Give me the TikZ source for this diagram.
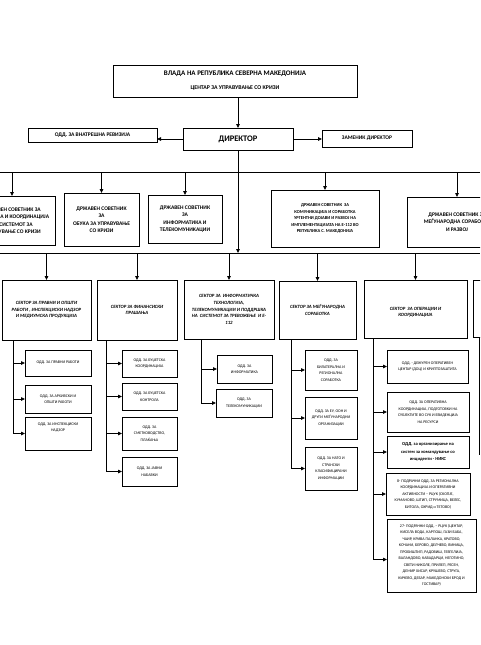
\documentclass[tikz,border=0pt]{standalone}
\usepackage{fontspec}
\setmainfont{Carlito}
\usetikzlibrary{arrows.meta}
\newcommand\mkbox[7]{\node[#2, minimum width={#5-#3}, minimum height={#6-#4}] (#1) at ({(#3+#5)/2},{(#4+#6)/2}) {#7};}
\begin{document}
\begin{tikzpicture}[x=1pt,y=-1pt,
  bx/.style={draw, line width=0.8pt, inner sep=0.5pt, outer sep=0pt, align=center},
  titl/.style={bx, line width=0.9pt},
  dirf/.style={bx, font=\bfseries\fontsize{8.5}{10}\selectfont},
  topf/.style={bx, font=\bfseries\fontsize{5.5}{7}\selectfont},
  advf/.style={bx, font=\bfseries\fontsize{5.5}{7.5}\selectfont},
  advs/.style={bx, font=\bfseries\fontsize{4.5}{6.5}\selectfont},
  secf/.style={bx, font=\bfseries\itshape\fontsize{4.8}{6.6}\selectfont},
  depf/.style={bx, font=\fontsize{4}{6.5}\selectfont},
  depb/.style={bx, font=\bfseries\fontsize{4.6}{7.5}\selectfont},
  ln/.style={line width=0.8pt},
  arr/.style={line width=0.8pt, -{Triangle[length=4pt,width=3.5pt]}}]
\useasboundingbox (0,0) rectangle (480,645);
\fill[white] (0,0) rectangle (480,645);
\begin{scope}
\clip (0,0) rectangle (480,645);
% top level
\mkbox{title}{titl}{113}{65}{357}{97}{{\bfseries\fontsize{7}{9}\selectfont ВЛАДА НА РЕПУБЛИКА СЕВЕРНА МАКЕДОНИЈА}\\[2pt]{\bfseries\fontsize{5.8}{8}\selectfont ЦЕНТАР ЗА УПРАВУВАЊЕ СО КРИЗИ}}
\mkbox{dir}{dirf}{183}{128}{293}{150}{ДИРЕКТОР}
\mkbox{rev}{topf}{28}{128}{157}{142}{ОДД. ЗА ВНАТРЕШНА РЕВИЗИЈА}
\mkbox{zam}{topf}{322}{130}{412}{147}{ЗАМЕНИК ДИРЕКТОР}
\draw[arr] (dir.north |- title.south) -- (dir.north);
\draw[arr] (dir.west) -- (dir.west -| rev.east);
\draw[arr] (dir.east) -- (dir.east -| zam.west);
% buses
\coordinate (busAl) at (0,172);
\coordinate (busAr) at (480,172);
\coordinate (busBl) at (0,253);
\coordinate (busBr) at (480,253);
\draw[ln] (busAl) -- (busAr);
\draw[ln] (busBl) -- (busBr);
\draw[arr] (dir.south) -- (dir.south |- busBl);
% state advisers
\mkbox{c1}{advf}{-31}{196}{55}{245}{ДРЖАВЕН СОВЕТНИК ЗА\\ПОДДРШКА И КООРДИНАЦИЈА\\НА СИСТЕМОТ ЗА\\УПРАВУВАЊЕ СО КРИЗИ}
\mkbox{c2}{advf}{64}{193}{139}{246}{ДРЖАВЕН СОВЕТНИК\\ЗА\\ОБУКА ЗА УПРАВУВАЊЕ\\СО КРИЗИ}
\mkbox{c3}{advf}{148}{195}{222}{243}{ДРЖАВЕН СОВЕТНИК\\ЗА\\ИНФОРМАТИКА И\\ТЕЛЕКОМУНИКАЦИИ}
\mkbox{c4}{advs}{271}{190}{379}{247}{ДРЖАВЕН СОВЕТНИК\ \ ЗА\\КОМУНИКАЦИЈА И СОРАБОТКА\\УРГЕНТНИ ДОЈАВИ И РАЗВОЈ НА\\ИМПЛЕМЕНТАЦИЈАТА НА Е-112 ВО\\РЕПУБЛИКА С. МАКЕДОНИЈА}
\mkbox{c5}{advf}{407}{197}{507}{247}{ДРЖАВЕН СОВЕТНИК ЗА\\МЕЃУНАРОДНА СОРАБОТКА\\И РАЗВОЈ}
\foreach \n in {c1,c2,c3,c4,c5} \draw[arr] (\n.north |- busAl) -- (\n.north);
% sectors
\mkbox{s1}{secf}{2}{280}{91}{340}{СЕКТОР ЗА ПРАВНИ И ОПШТИ\\РАБОТИ , ИНСПЕКЦИСКИ НАДЗОР\\И МЕДИУМСКА ПРОДУКЦИЈА}
\mkbox{s2}{secf}{97}{280}{177}{340}{СЕКТОР ЗА ФИНАНСИСКИ\\ПРАШАЊА}
\mkbox{s3}{secf}{184}{280}{274}{339}{СЕКТОР ЗА\ \ ИНФОРМАТИЧКА\\ТЕХНОЛОГИЈА,\\ТЕЛЕКОМУНИКАЦИИ И ПОДДРШКА\\НА\ \ СИСТЕМОТ ЗА ТРЕВОЖЕЊЕ\ \ И Е-\\112}
\mkbox{s4}{secf}{279}{281}{356}{339}{СЕКТОР ЗА МЕЃУНАРОДНА\\СОРАБОТКА}
\mkbox{s5}{secf}{364}{280}{467}{338}{\\[3pt]СЕКТОР\ \ ЗА ОПЕРАЦИИ И\\КООРДИНАЦИЈА}
\mkbox{s6}{secf}{473}{280}{560}{337}{}
\foreach \n in {s1,s2,s3,s4,s5,s6} \draw[arr] (\n.north |- busBl) -- (\n.north);
% departments sector 1
\mkbox{d11}{depf}{25}{350}{91}{376}{ОДД. ЗА ПРАВНИ РАБОТИ}
\mkbox{d12}{depf}{25}{385}{91}{413}{ОДД. ЗА АРХИВСКИ И\\ОПШТИ РАБОТИ}
\mkbox{d13}{depf}{25}{417}{91}{450}{ОДД. ЗА ИНСПЕКЦИСКИ\\НАДЗОР\\[6pt]}
\coordinate (sp1) at (13,340);
\foreach \n in {d11,d12,d13} \draw[arr] (sp1) |- (\n);
% sector 2
\mkbox{d21}{depf}{122}{350}{177}{377}{ОДД. ЗА БУЏЕТСКА\\КООРДИНАЦИЈА}
\mkbox{d22}{depf}{122}{383}{177}{410}{ОДД. ЗА БУЏЕТСКА\\КОНТРОЛА}
\mkbox{d23}{depf}{122}{417}{177}{450}{ОДД. ЗА\\СМЕТКОВОДСТВО,\\ПЛАЌАЊА}
\mkbox{d24}{depf}{122}{457}{177}{486}{ОДД. ЗА ЈАВНИ\\НАБАВКИ}
\coordinate (sp2) at (106,340);
\foreach \n in {d21,d22,d23,d24} \draw[arr] (sp2) |- (\n);
% sector 3
\mkbox{d31}{depf}{217}{355}{272}{383}{ОДД. ЗА\\ИНФОРМАТИКА}
\mkbox{d32}{depf}{216}{389}{272}{417}{ОДД. ЗА\\ТЕЛЕКОМУНИКАЦИИ}
\coordinate (sp3) at (201,339);
\foreach \n in {d31,d32} \draw[arr] (sp3) |- (\n);
% sector 4
\mkbox{d41}{depf}{305}{350}{357}{390}{ОДД. ЗА\\БИЛАТЕРАЛНА И\\РЕГИОНАЛНА\\СОРАБОТКА}
\mkbox{d42}{depf}{305}{397}{357}{439}{ОДД. ЗА ЕУ, ООН И\\ДРУГИ МЕЃУНАРОДНИ\\ОРГАНИЗАЦИИ}
\mkbox{d43}{depf}{305}{447}{357}{490}{ОДД. ЗА НАТО И\\СТРАНСКИ\\КЛАСИФИЦИРАНИ\\ИНФОРМАЦИИ}
\coordinate (sp4) at (291,339);
\foreach \n in {d41,d42,d43} \draw[arr] (sp4) |- (\n);
% sector 5
\mkbox{d51}{depf}{387}{350}{468}{383}{ОДД. - ДЕЖУРЕН ОПЕРАТИВЕН\\ЦЕНТАР (ДОЦ) И КРИПТОЗАШТИТА}
\mkbox{d52}{depf}{387}{392}{469}{432}{ОДД. ЗА ОПЕРАТИВНА\\КООРДИНАЦИЈА, ПОДГОТОВКИ НА\\СУБЈЕКТИТЕ ВО СУК И ЕВИДЕНЦИЈА\\НА РЕСУРСИ}
\mkbox{d53}{depb}{387}{436}{469}{468}{ОДД. за организирање на\\систем за командување со\\инциденти - НИКС}
\mkbox{d54}{depf}{386}{473}{470}{515}{8- ПОДРАЧНИ ОДД. ЗА РЕГИОНАЛНА\\КООРДИНАЦИЈА И ОПЕРАТИВНИ\\АКТИВНОСТИ – РЦУК (СКОПЈЕ,\\КУМАНОВО, ШТИП, СТРУМИЦА, ВЕЛЕС,\\БИТОЛА, ОХРИД и ТЕТОВО)}
\mkbox{d55}{depf}{387}{519}{476}{592}{27- ПОДРАЧНИ ОДД. – РЦУК (ЦЕНТАР,\\КИСЕЛА ВОДА, КАРПОШ, ГАЗИ БАБА,\\ЧАИР, КРИВА ПАЛАНКА, КРАТОВО,\\КОЧАНИ, БЕРОВО, ДЕЛЧЕВО, ВИНИЦА,\\ПРОБИШТИП, РАДОВИШ, ГЕВГЕЛИЈА,\\ВАЛАНДОВО, КАВАДАРЦИ, НЕГОТИНО,\\СВЕТИ НИКОЛЕ, ПРИЛЕП, РЕСЕН,\\ДЕМИР ХИСАР, КРУШЕВО, СТРУГА,\\КИЧЕВО, ДЕБАР, МАКЕДОНСКИ БРОД И\\ГОСТИВАР)}
\coordinate (sp5) at (373,338);
\foreach \n in {d51,d52,d53,d54} \draw[arr] (sp5) |- (\n);
\draw[arr] (sp5) |- ([yshift=-4pt]d55.west);
% sector 6 spine (cut off)
\coordinate (sp6) at (479,337);
\coordinate (sp6e) at (479,455);
\draw[ln] (sp6) -- (sp6e);
\end{scope}
\end{tikzpicture}
\end{document}
